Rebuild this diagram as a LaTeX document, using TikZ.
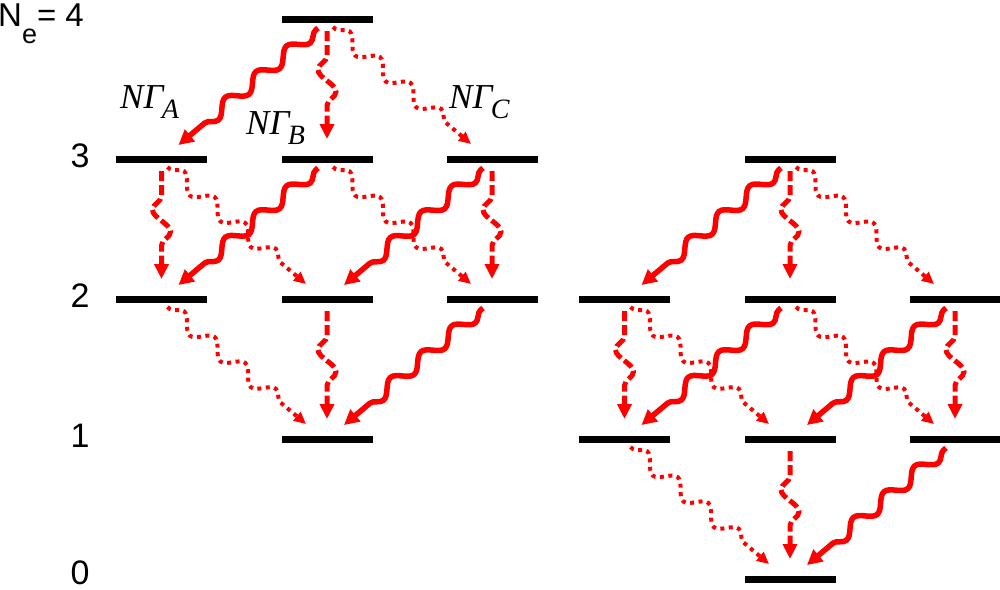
\documentclass[tikz,border=0pt]{standalone}
\usepackage{fontspec}
\setsansfont{Liberation Sans}
\newfontfamily\gserif{Liberation Serif}
\usetikzlibrary{decorations.pathmorphing,arrows.meta,calc}
\newcommand{\ngam}[1]{{\gserif\itshape\fontsize{35}{35}\selectfont NΓ\kern-1.5pt\raisebox{-10pt}{\fontsize{28}{28}\selectfont #1}}}
\begin{document}
\begin{tikzpicture}[x=1pt,y=-1pt,
  bar/.style={fill=black,draw=none,rectangle,minimum width=91pt,minimum height=7pt,inner sep=0pt},
  lvl/.style={font=\sffamily\fontsize{34}{34}\selectfont,anchor=base,inner sep=0pt},
  lab/.style={inner sep=0pt,anchor=base west},
  solidwave/.style={red,line width=5.5pt,-{Triangle[length=15pt,width=15pt]},
    decorate,decoration={snake,segment length=40pt,amplitude=6.5pt,pre length=3pt,post length=16pt}},
  dashwave/.style={red,line width=5pt,dash pattern=on 10pt off 4pt,-{Triangle[length=15pt,width=14pt]},
    decorate,decoration={snake,segment length=44pt,amplitude=-9pt,pre length=25pt,post length=23pt}},
  dotwave/.style={red,line width=4pt,dash pattern=on 4pt off 4.5pt,-{Triangle[length=12pt,width=11pt]},
    decorate,decoration={snake,segment length=40pt,amplitude=7.5pt,pre length=3pt,post length=14pt}},
]
\useasboundingbox (0,0) rectangle (1000,589);
% labels
\node[font=\sffamily\fontsize{33}{33}\selectfont,anchor=base west,inner sep=0pt] (ne) at (-2,27)
  {N\raisebox{-0.5em}{\fontsize{27}{27}\selectfont e}= 4};
\node[lvl] (n3) at (80,167) {3};
\node[lvl] (n2) at (80,307) {2};
\node[lvl] (n1) at (80,447) {1};
\node[lvl] (n0) at (80,584) {0};
\node[lab] (gA) at (120,108) {\ngam{A}};
\node[lab] (gB) at (246,134) {\ngam{B}};
\node[lab] (gC) at (449,108) {\ngam{C}};
% left diagram bars
\node[bar] (aM4) at (327,19) {};
\node[bar] (aL3) at (161.5,159) {};
\node[bar] (aM3) at (327,159) {};
\node[bar] (aR3) at (492,159) {};
\node[bar] (aL2) at (161.5,299) {};
\node[bar] (aM2) at (327,299) {};
\node[bar] (aR2) at (492,299) {};
\node[bar] (aM1) at (327,439) {};
% right diagram bars
\node[bar] (bM3) at (790,159) {};
\node[bar] (bL2) at (624.5,299) {};
\node[bar] (bM2) at (790,299) {};
\node[bar] (bR2) at (955,299) {};
\node[bar] (bL1) at (624.5,439) {};
\node[bar] (bM1) at (790,439) {};
\node[bar] (bR1) at (955,439) {};
\node[bar] (bM0) at (790,579) {};
% generic arrow macros
\newcommand{\solidarr}[2]{\draw[solidwave] ($(#1)+(-9,9)$) -- ($(#2)+(17,-14)$);}
\newcommand{\dasharr}[2]{\draw[dashwave] ($(#1)+(0,12)$) -- ($(#2)+(0,-20)$);}
\newcommand{\dotarr}[2]{\draw[dotwave] ($(#1)+(6,8)$) -- ($(#2)+(-21,-15)$);}
% left diagram
\solidarr{aM4}{aL3}
\dasharr{aM4}{aM3}
\dotarr{aM4}{aR3}
\dasharr{aL3}{aL2}
\dotarr{aL3}{aM2}
\solidarr{aM3}{aL2}
\dotarr{aM3}{aR2}
\solidarr{aR3}{aM2}
\dasharr{aR3}{aR2}
\dotarr{aL2}{aM1}
\dasharr{aM2}{aM1}
\solidarr{aR2}{aM1}
% right diagram
\solidarr{bM3}{bL2}
\dasharr{bM3}{bM2}
\dotarr{bM3}{bR2}
\dasharr{bL2}{bL1}
\dotarr{bL2}{bM1}
\solidarr{bM2}{bL1}
\dotarr{bM2}{bR1}
\solidarr{bR2}{bM1}
\dasharr{bR2}{bR1}
\dotarr{bL1}{bM0}
\dasharr{bM1}{bM0}
\solidarr{bR1}{bM0}
\end{tikzpicture}
\end{document}
